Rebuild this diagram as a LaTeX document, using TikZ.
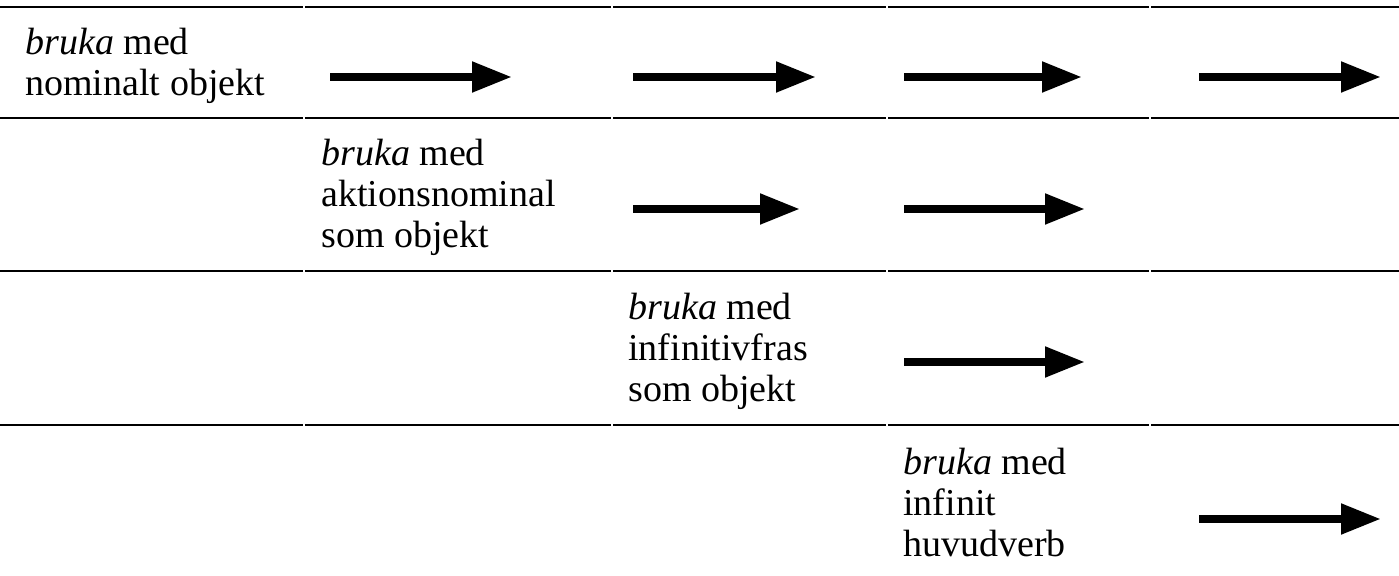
\documentclass[tikz,border=0pt]{standalone}
\usepackage{fontspec}
\setmainfont{Liberation Serif}
\usetikzlibrary{arrows.meta}
\begin{document}
\begin{tikzpicture}[x=0.5pt,y=-0.5pt,
  rule/.style={line width=1pt},
  cell/.style={anchor=base west,inner sep=0pt,align=left,font=\fontsize{19}{20.5}\selectfont},
  bigarrow/.style={line width=4pt,-{Triangle[length=20pt,width=14.5pt]}}]
\useasboundingbox (0,0) rectangle (1399,576);
% horizontal rules, broken at column boundaries
\foreach \y in {7,118,271,425}{
  \draw[rule] (0,\y) -- (303,\y);
  \draw[rule] (305,\y) -- (611,\y);
  \draw[rule] (613,\y) -- (886,\y);
  \draw[rule] (888,\y) -- (1149,\y);
  \draw[rule] (1151,\y) -- (1399,\y);
}
% texts (anchored at the baseline of the last line)
\node[cell] (t1) at (25,96) {\textit{bruka} med\\nominalt objekt};
\node[cell] (t2) at (321,248) {\textit{bruka} med\\aktionsnominal\\som objekt};
\node[cell] (t3) at (628,402) {\textit{bruka} med\\infinitivfras\\som objekt};
\node[cell] (t4) at (903,557) {\textit{bruka} med\\infinit\\huvudverb};
% arrow endpoints
\coordinate (a1s) at (330,77);  \coordinate (a1e) at (512,77);
\coordinate (a2s) at (633,77);  \coordinate (a2e) at (816,77);
\coordinate (a3s) at (904,77);  \coordinate (a3e) at (1082,77);
\coordinate (a4s) at (1199,77); \coordinate (a4e) at (1381,77);
\coordinate (b1s) at (633,209); \coordinate (b1e) at (800,209);
\coordinate (b2s) at (904,209); \coordinate (b2e) at (1085,209);
\coordinate (c1s) at (904,362); \coordinate (c1e) at (1085,362);
\coordinate (d1s) at (1199,519); \coordinate (d1e) at (1381,519);
\foreach \p in {a1,a2,a3,a4,b1,b2,c1,d1}
  \draw[bigarrow] (\p s) -- (\p e);
\end{tikzpicture}
\end{document}
